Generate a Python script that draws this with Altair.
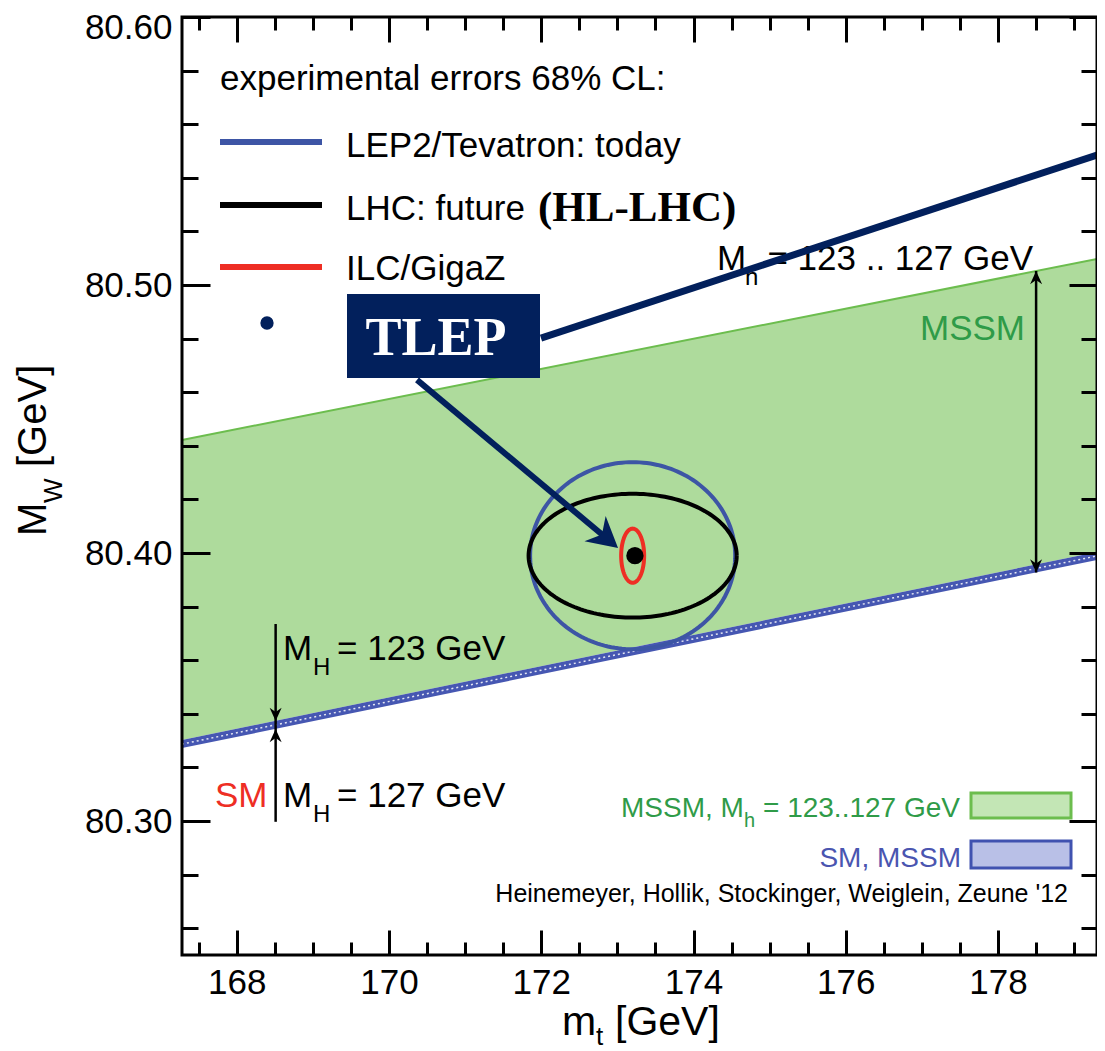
import numpy as np
import pandas as pd
import altair as alt

# ---------------- values ----------------
mt_domain = [167.28, 179.30]
mw_domain = [80.25, 80.60]

mt_major = [168, 170, 172, 174, 176, 178]
mt_minor = [167.5, 168.0, 168.5, 169.0, 169.5, 170.0, 170.5, 171.0, 171.5, 172.0,
            172.5, 173.0, 173.5, 174.0, 174.5, 175.0, 175.5, 176.0, 176.5, 177.0,
            177.5, 178.0, 178.5, 179.0]
mw_major = [80.30, 80.40, 80.50, 80.60]
mw_minor = [80.26, 80.28, 80.30, 80.32, 80.34, 80.36, 80.38, 80.40, 80.42, 80.44,
            80.46, 80.48, 80.50, 80.52, 80.54, 80.56, 80.58]

# bands (SM line M_H = 123..127 GeV, MSSM region M_h = 123..127 GeV)
band_mt = [167.28, 179.30]
sm_low = [80.3272, 80.3974]
sm_high = [80.3302, 80.4004]
mssm_high = [80.4422, 80.5097]

# 68% CL ellipses
ell_names = ["LEP2/Tevatron: today", "LHC: future", "ILC/GigaZ"]
ell_colors = ["#3d55a5", "#000000", "#ee2e24"]
ell_center_mt = 173.20
ell_center_mw = 80.399
ell_half_mt = [1.347, 1.367, 0.151]
ell_half_mw = [0.0349, 0.0231, 0.0101]

# TLEP point
tlep_mt = [173.23]
tlep_mw = [80.399]

# annotation arrows (data coordinates)
mh_arrow = {"mt": 168.51, "top": 80.3735, "bottom": 80.2997, "down_tip": 80.3373, "up_tip": 80.3343}
mssm_arrow = {"mt": 178.50, "top": 80.5052, "bottom": 80.3927}
tlep_line = {"mt1": 171.996, "mw1": 80.4802, "mt2": 179.30, "mw2": 80.5485}
tlep_arrow = {"mt1": 170.367, "mw1": 80.4646, "mt2": 172.857, "mw2": 80.4055,
              "tip_mt": 173.008, "tip_mw": 80.4019}

# ---------------- styles ----------------
SANS = "Liberation Sans"
SERIF = "Liberation Serif"
NAVY = "#02205c"
GREEN_FILL = "#aedb9c"
GREEN_EDGE = "#6cbd4e"
GREEN_TEXT = "#2f9b48"
BLUE = "#3d55a5"
BLUE_TEXT = "#4a55b0"
RED = "#ee2e24"
W, H = 915, 938

xs = alt.Scale(domain=mt_domain, nice=False, zero=False)
ys = alt.Scale(domain=mw_domain, nice=False, zero=False)


def X(f):
    return alt.X(f, type="quantitative", scale=xs, axis=None)


def Y(f):
    return alt.Y(f, type="quantitative", scale=ys, axis=None)


one = pd.DataFrame({"d": [0]})


def label(t, x, y, size=35, color="black", font=SANS, weight="normal",
          align="left", angle=0, baseline="alphabetic"):
    return alt.Chart(one).mark_text(
        text=t, fontSize=size, font=font, fontWeight=weight, color=color,
        align=align, baseline=baseline, angle=angle
    ).encode(x=alt.value(x), y=alt.value(y))


def rule(df, color, width):
    return alt.Chart(df).mark_rule(color=color, strokeWidth=width).encode(
        x=X("x1"), y=Y("y1"), x2=alt.X2("x2"), y2=alt.Y2("y2"))


def head(mt, mw, path, size, color, angle=0):
    return alt.Chart(pd.DataFrame({"mt": [mt], "mw": [mw]})).mark_point(
        shape=path, size=size, filled=True, color=color, opacity=1, angle=angle,
        strokeWidth=0
    ).encode(x=X("mt"), y=Y("mw"))


# ---------------- bands ----------------
band_df = pd.DataFrame({"mt": band_mt, "sm_low": sm_low, "sm_high": sm_high,
                        "mssm_high": mssm_high})
green_area = alt.Chart(band_df).mark_area(color=GREEN_FILL, opacity=1).encode(
    x=X("mt"), y=Y("sm_high"), y2=alt.Y2("mssm_high"))
green_edge = alt.Chart(band_df).mark_line(color=GREEN_EDGE, strokeWidth=2).encode(
    x=X("mt"), y=Y("mssm_high"))
sm_area = alt.Chart(band_df).mark_area(color="#4657b2", opacity=1).encode(
    x=X("mt"), y=Y("sm_low"), y2=alt.Y2("sm_high"))
sm_dots = alt.Chart(band_df).transform_calculate(
    mid="(datum.sm_low + datum.sm_high) / 2"
).mark_line(color="white", strokeWidth=1.5, strokeDash=[2, 3], opacity=0.85).encode(
    x=X("mt"), y=Y("mid"))

# ---------------- ellipses ----------------
rows = []
for name, a, b in zip(ell_names, ell_half_mt, ell_half_mw):
    t = np.linspace(0, 2 * np.pi, 181)
    for i, tt in enumerate(t):
        rows.append({"name": name, "i": i,
                     "mt": ell_center_mt + a * np.cos(tt),
                     "mw": ell_center_mw + b * np.sin(tt)})
ell_df = pd.DataFrame(rows)
ellipses = alt.Chart(ell_df).mark_line(strokeWidth=4).encode(
    x=X("mt"), y=Y("mw"),
    color=alt.Color("name:N", scale=alt.Scale(domain=ell_names, range=ell_colors), legend=None),
    detail="name:N",
    order=alt.Order("i:Q"))

tlep_dot = alt.Chart(pd.DataFrame({"mt": tlep_mt, "mw": tlep_mw})).mark_circle(
    size=300, color="black", opacity=1).encode(x=X("mt"), y=Y("mw"))

# ---------------- M_H arrows ----------------
DOWN = "M 0 0 L -1 -2.2 L 0 -1.5 L 1 -2.2 Z"
UP = "M 0 0 L -1 2.2 L 0 1.5 L 1 2.2 Z"
mh_line = rule(pd.DataFrame({"x1": [mh_arrow["mt"]], "y1": [mh_arrow["top"]],
                             "x2": [mh_arrow["mt"]], "y2": [mh_arrow["bottom"]]}), "black", 2.5)
mh_h1 = head(mh_arrow["mt"], mh_arrow["down_tip"], DOWN, 144, "black")
mh_h2 = head(mh_arrow["mt"], mh_arrow["up_tip"], UP, 144, "black")
ms_line = rule(pd.DataFrame({"x1": [mssm_arrow["mt"]], "y1": [mssm_arrow["top"]],
                             "x2": [mssm_arrow["mt"]], "y2": [mssm_arrow["bottom"]]}), "black", 2.5)
ms_h1 = head(mssm_arrow["mt"], mssm_arrow["top"], UP, 144, "black")
ms_h2 = head(mssm_arrow["mt"], mssm_arrow["bottom"], DOWN, 144, "black")

# ---------------- in-plot labels ----------------
texts = [
    # MSSM arrow label
    label("M", 535, 253),
    label("h", 563, 268, size=24),
    label("= 123 .. 127 GeV", 851, 253, align="right"),
    label("MSSM", 843, 323, color=GREEN_TEXT, align="right"),
    # SM labels
    label("M", 101, 643),
    label("H", 131, 658, size=24),
    label("= 123 GeV", 155, 643),
    label("SM", 33, 790, color=RED),
    label("M", 101, 790),
    label("H", 131, 805, size=24),
    label("= 127 GeV", 155, 790),
    # bottom-right legend
    label("MSSM, M", 439, 800, size=28, color=GREEN_TEXT),
    label("h", 562, 810, size=20, color=GREEN_TEXT),
    label("= 123..127 GeV", 581, 800, size=28, color=GREEN_TEXT),
    label("SM, MSSM", 779, 850, size=28, color=BLUE_TEXT, align="right"),
    label("Heinemeyer, Hollik, Stockinger, Weiglein, Zeune '12", 886, 885, size=25, align="right"),
    # axis titles
    label("M", -136, 519, size=40, angle=270),
    label("W", -120, 486, size=26, angle=270),
    label("[GeV]", -136, 450, size=40, angle=270),
    label("m", 380, 1018, size=41),
    label("t", 414, 1028, size=26),
    label("[GeV]", 433, 1018, size=41),
]

green_box = alt.Chart(one).mark_rect(fill="#c3e6b5", stroke=GREEN_EDGE, strokeWidth=3).encode(
    x=alt.value(789), x2=alt.value(889), y=alt.value(776), y2=alt.value(801))
blue_box = alt.Chart(one).mark_rect(fill="#b9c0e7", stroke="#4052b0", strokeWidth=3).encode(
    x=alt.value(789), x2=alt.value(889), y=alt.value(824), y2=alt.value(851))

# ---------------- top-left legend ----------------
legend = [
    label("experimental errors 68% CL:", 38, 73),
    label("LEP2/Tevatron: today", 164, 140),
    label("LHC: future", 164, 203),
    label("(HL-LHC)", 356, 204, size=43, font=SERIF, weight="bold"),
    label("ILC/GigaZ", 164, 263),
]
for yv, col in zip([125, 188, 250], ell_colors):
    legend.append(alt.Chart(one).mark_rule(color=col, strokeWidth=6).encode(
        x=alt.value(38), x2=alt.value(140), y=alt.value(yv)))
legend.append(alt.Chart(one).mark_circle(size=177, color=NAVY, opacity=1).encode(
    x=alt.value(85), y=alt.value(306)))

# ---------------- TLEP callout ----------------
tl_line = rule(pd.DataFrame({"x1": [tlep_line["mt1"]], "y1": [tlep_line["mw1"]],
                             "x2": [tlep_line["mt2"]], "y2": [tlep_line["mw2"]]}), NAVY, 7)
tl_arrow = rule(pd.DataFrame({"x1": [tlep_arrow["mt1"]], "y1": [tlep_arrow["mw1"]],
                              "x2": [tlep_arrow["mt2"]], "y2": [tlep_arrow["mw2"]]}), NAVY, 6)
tl_head = head(tlep_arrow["tip_mt"], tlep_arrow["tip_mw"],
               "M 0 0 L -2 -1.1 L -1.4 0 L -2 1.1 Z", 900, NAVY, angle=40)
tl_box = alt.Chart(one).mark_rect(fill=NAVY).encode(
    x=alt.value(165), x2=alt.value(358), y=alt.value(277), y2=alt.value(361))
tl_text = label("TLEP", 254, 338, size=54, color="white", font=SERIF, weight="bold", align="center")

frame = alt.Chart(one).mark_rect(fillOpacity=0, stroke="black", strokeWidth=3).encode(
    x=alt.value(0), x2=alt.value(W), y=alt.value(0), y2=alt.value(H))

# ---------------- axes (inward ticks) ----------------
corner = pd.DataFrame({"mt": mt_domain, "mw": mw_domain})
common = dict(domain=False, grid=False, title=None, tickColor="black", tickWidth=3, zindex=3)
lab = dict(labelFont=SANS, labelFontSize=35, labelColor="black", labelOverlap=False)


def carrier(xaxis, yaxis):
    return alt.Chart(corner).mark_point(opacity=0, size=1).encode(
        x=alt.X("mt:Q", scale=xs, axis=xaxis), y=alt.Y("mw:Q", scale=ys, axis=yaxis))


axes = [
    carrier(alt.Axis(orient="bottom", values=mt_major, tickSize=25, offset=-25, labelPadding=10,
                     format="d", labelFlush=False, **lab, **common),
            alt.Axis(orient="left", values=mw_major, tickSize=28, offset=-28, labelPadding=10,
                     format=".2f", labelFlush=1, labelFlushOffset=7, **lab, **common)),
    carrier(alt.Axis(orient="bottom", values=mt_minor, tickSize=13, offset=-13, labels=False, **common),
            alt.Axis(orient="left", values=mw_minor, tickSize=16, offset=-16, labels=False, **common)),
    carrier(alt.Axis(orient="top", values=mt_major, tickSize=25, offset=-25, labels=False, **common),
            alt.Axis(orient="right", values=mw_major, tickSize=28, offset=-28, labels=False, **common)),
    carrier(alt.Axis(orient="top", values=mt_minor, tickSize=13, offset=-13, labels=False, **common),
            alt.Axis(orient="right", values=mw_minor, tickSize=16, offset=-16, labels=False, **common)),
]

layers = ([green_area, green_edge, sm_area, sm_dots, ellipses, tlep_dot,
           mh_line, mh_h1, mh_h2, ms_line, ms_h1, ms_h2, green_box, blue_box]
          + texts + legend + [tl_line, tl_arrow, tl_head, tl_box, tl_text, frame] + axes)

chart = alt.layer(*layers).resolve_axis(x="independent", y="independent").properties(
    width=W, height=H,
    autosize=alt.AutoSizeParams(type="none"),
    padding={"left": 174, "top": 9, "right": 0, "bottom": 96},
    background="white",
).configure_view(stroke="transparent")

chart.save("out.html", embed_options={"renderer": "svg", "actions": False})
